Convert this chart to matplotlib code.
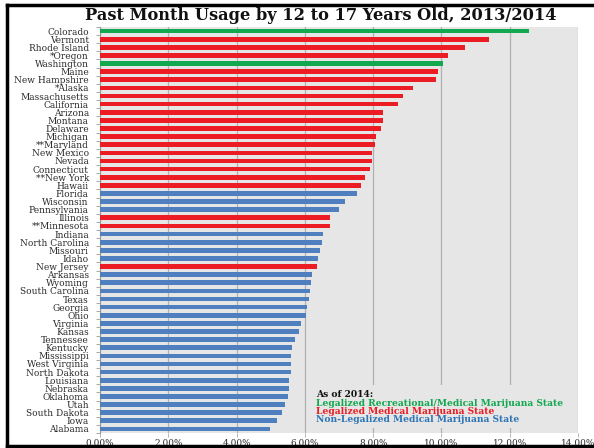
import matplotlib
matplotlib.use("Agg")
import matplotlib.pyplot as plt
from matplotlib.lines import Line2D
import numpy as np

states = ["Colorado", "Vermont", "Rhode Island", "*Oregon", "Washington", "Maine",
          "New Hampshire", "*Alaska", "Massachusetts", "California", "Arizona", "Montana",
          "Delaware", "Michigan", "**Maryland", "New Mexico", "Nevada", "Connecticut",
          "**New York", "Hawaii", "Florida", "Wisconsin", "Pennsylvania", "Illinois",
          "**Minnesota", "Indiana", "North Carolina", "Missouri", "Idaho", "New Jersey",
          "Arkansas", "Wyoming", "South Carolina", "Texas", "Georgia", "Ohio", "Virginia",
          "Kansas", "Tennessee", "Kentucky", "Mississippi", "West Virginia", "North Dakota",
          "Louisiana", "Nebraska", "Oklahoma", "Utah", "South Dakota", "Iowa", "Alabama"]
usage = [12.57, 11.40, 10.70, 10.18, 10.06, 9.90, 9.84, 9.18, 8.88, 8.74, 8.29, 8.30,
         8.23, 8.08, 8.05, 7.97, 7.96, 7.91, 7.75, 7.65, 7.52, 7.18, 7.01, 6.74, 6.74,
         6.53, 6.51, 6.44, 6.39, 6.36, 6.22, 6.19, 6.16, 6.13, 6.07, 6.03, 5.90, 5.84,
         5.70, 5.63, 5.60, 5.60, 5.60, 5.55, 5.54, 5.52, 5.41, 5.32, 5.17, 4.98]
# R = recreational+medical, M = medical, N = not legalized
status = ["R", "M", "M", "M", "R", "M", "M", "M", "M", "M", "M", "M", "M", "M", "M",
          "M", "M", "M", "M", "M", "N", "N", "N", "M", "M", "N", "N", "N", "N", "M",
          "N", "N", "N", "N", "N", "N", "N", "N", "N", "N", "N", "N", "N", "N", "N",
          "N", "N", "N", "N", "N"]
xticks = [0, 2, 4, 6, 8, 10, 12, 14]
title = "Past Month Usage by 12 to 17 Years Old, 2013/2014"
legend_head = "As of 2014:"
legend_lines = ["Legalized Recreational/Medical Marijuana State",
                "Legalized Medical Marijuana State",
                "Non-Legalized Medical Marijuana State"]

colors = {"R": "#12a84f", "M": "#ec1c24", "N": "#4f7fbf"}
legend_colors = ["#12a84f", "#ec1c24", "#2e75b6"]
bg = "#e6e6e6"
serif = ["DejaVu Serif"]

W, H = 594, 448
fig = plt.figure(figsize=(W / 100, H / 100), dpi=100)
ax = fig.add_axes([100 / W, 1 - 433 / H, 478 / W, 406 / H])
ax.set_facecolor(bg)

y = np.arange(len(states))
ax.barh(y, usage, height=0.58, color=[colors[s] for s in status], zorder=3)
ax.set_ylim(len(states) - 0.5, -0.5)
ax.set_xlim(0, 14)
ax.set_yticks(y)
ax.set_yticklabels(states, fontsize=6.5, family=serif, color="#2a2a2a")
ax.tick_params(axis="y", length=0, pad=8)
ax.set_yticks(np.arange(-0.5, len(states), 1), minor=True)
ax.tick_params(axis="y", which="minor", length=3, color="#999999", width=0.6)
ax.set_xticks(xticks)
ax.set_xticklabels([f"{v:.2f}%" for v in xticks], fontsize=6.4, family=serif, color="#2a2a2a")
ax.tick_params(axis="x", length=3, color="#aaaaaa", width=0.6, pad=1.5)
ax.grid(axis="x", color="#b0b0b0", linewidth=0.9, zorder=0)
ax.set_axisbelow(True)
for side in ["top", "right", "bottom"]:
    ax.spines[side].set_visible(False)
ax.spines["left"].set_color("#999999")
ax.spines["left"].set_linewidth(0.8)

fig.text(321 / W, 1 - 15.5 / H, title, ha="center", va="center", fontsize=11.7,
         fontweight="bold", family=serif, color="#111111")

# legend box
lx = (316 - 100) / 478 * 14
ax.add_patch(plt.Rectangle((lx - 0.18, 43.6), 13.85 - lx, 5.3,
                           facecolor=bg, edgecolor="none", zorder=2))
ax.text(lx, 44.8, legend_head, fontsize=6.6, fontweight="bold", family=serif,
        color="#111111", va="center", zorder=4)
for i, (txt, c) in enumerate(zip(legend_lines, legend_colors)):
    ax.text(lx, 45.85 + i * 1.0, txt, fontsize=6.6, fontweight="bold", family=serif,
            color=c, va="center", zorder=4)

# black frame
fig.add_artist(Line2D([7 / W, 7 / W], [1 - 446 / H, 1 - 5 / H], color="black", lw=2.5,
                      transform=fig.transFigure))
fig.add_artist(Line2D([7 / W, 1], [1 - 5 / H, 1 - 5 / H], color="black", lw=2.5,
                      transform=fig.transFigure))
fig.add_artist(Line2D([7 / W, 1], [1 - 446 / H, 1 - 446 / H], color="black", lw=2.5,
                      transform=fig.transFigure))

fig.savefig("out.png", dpi=100)
